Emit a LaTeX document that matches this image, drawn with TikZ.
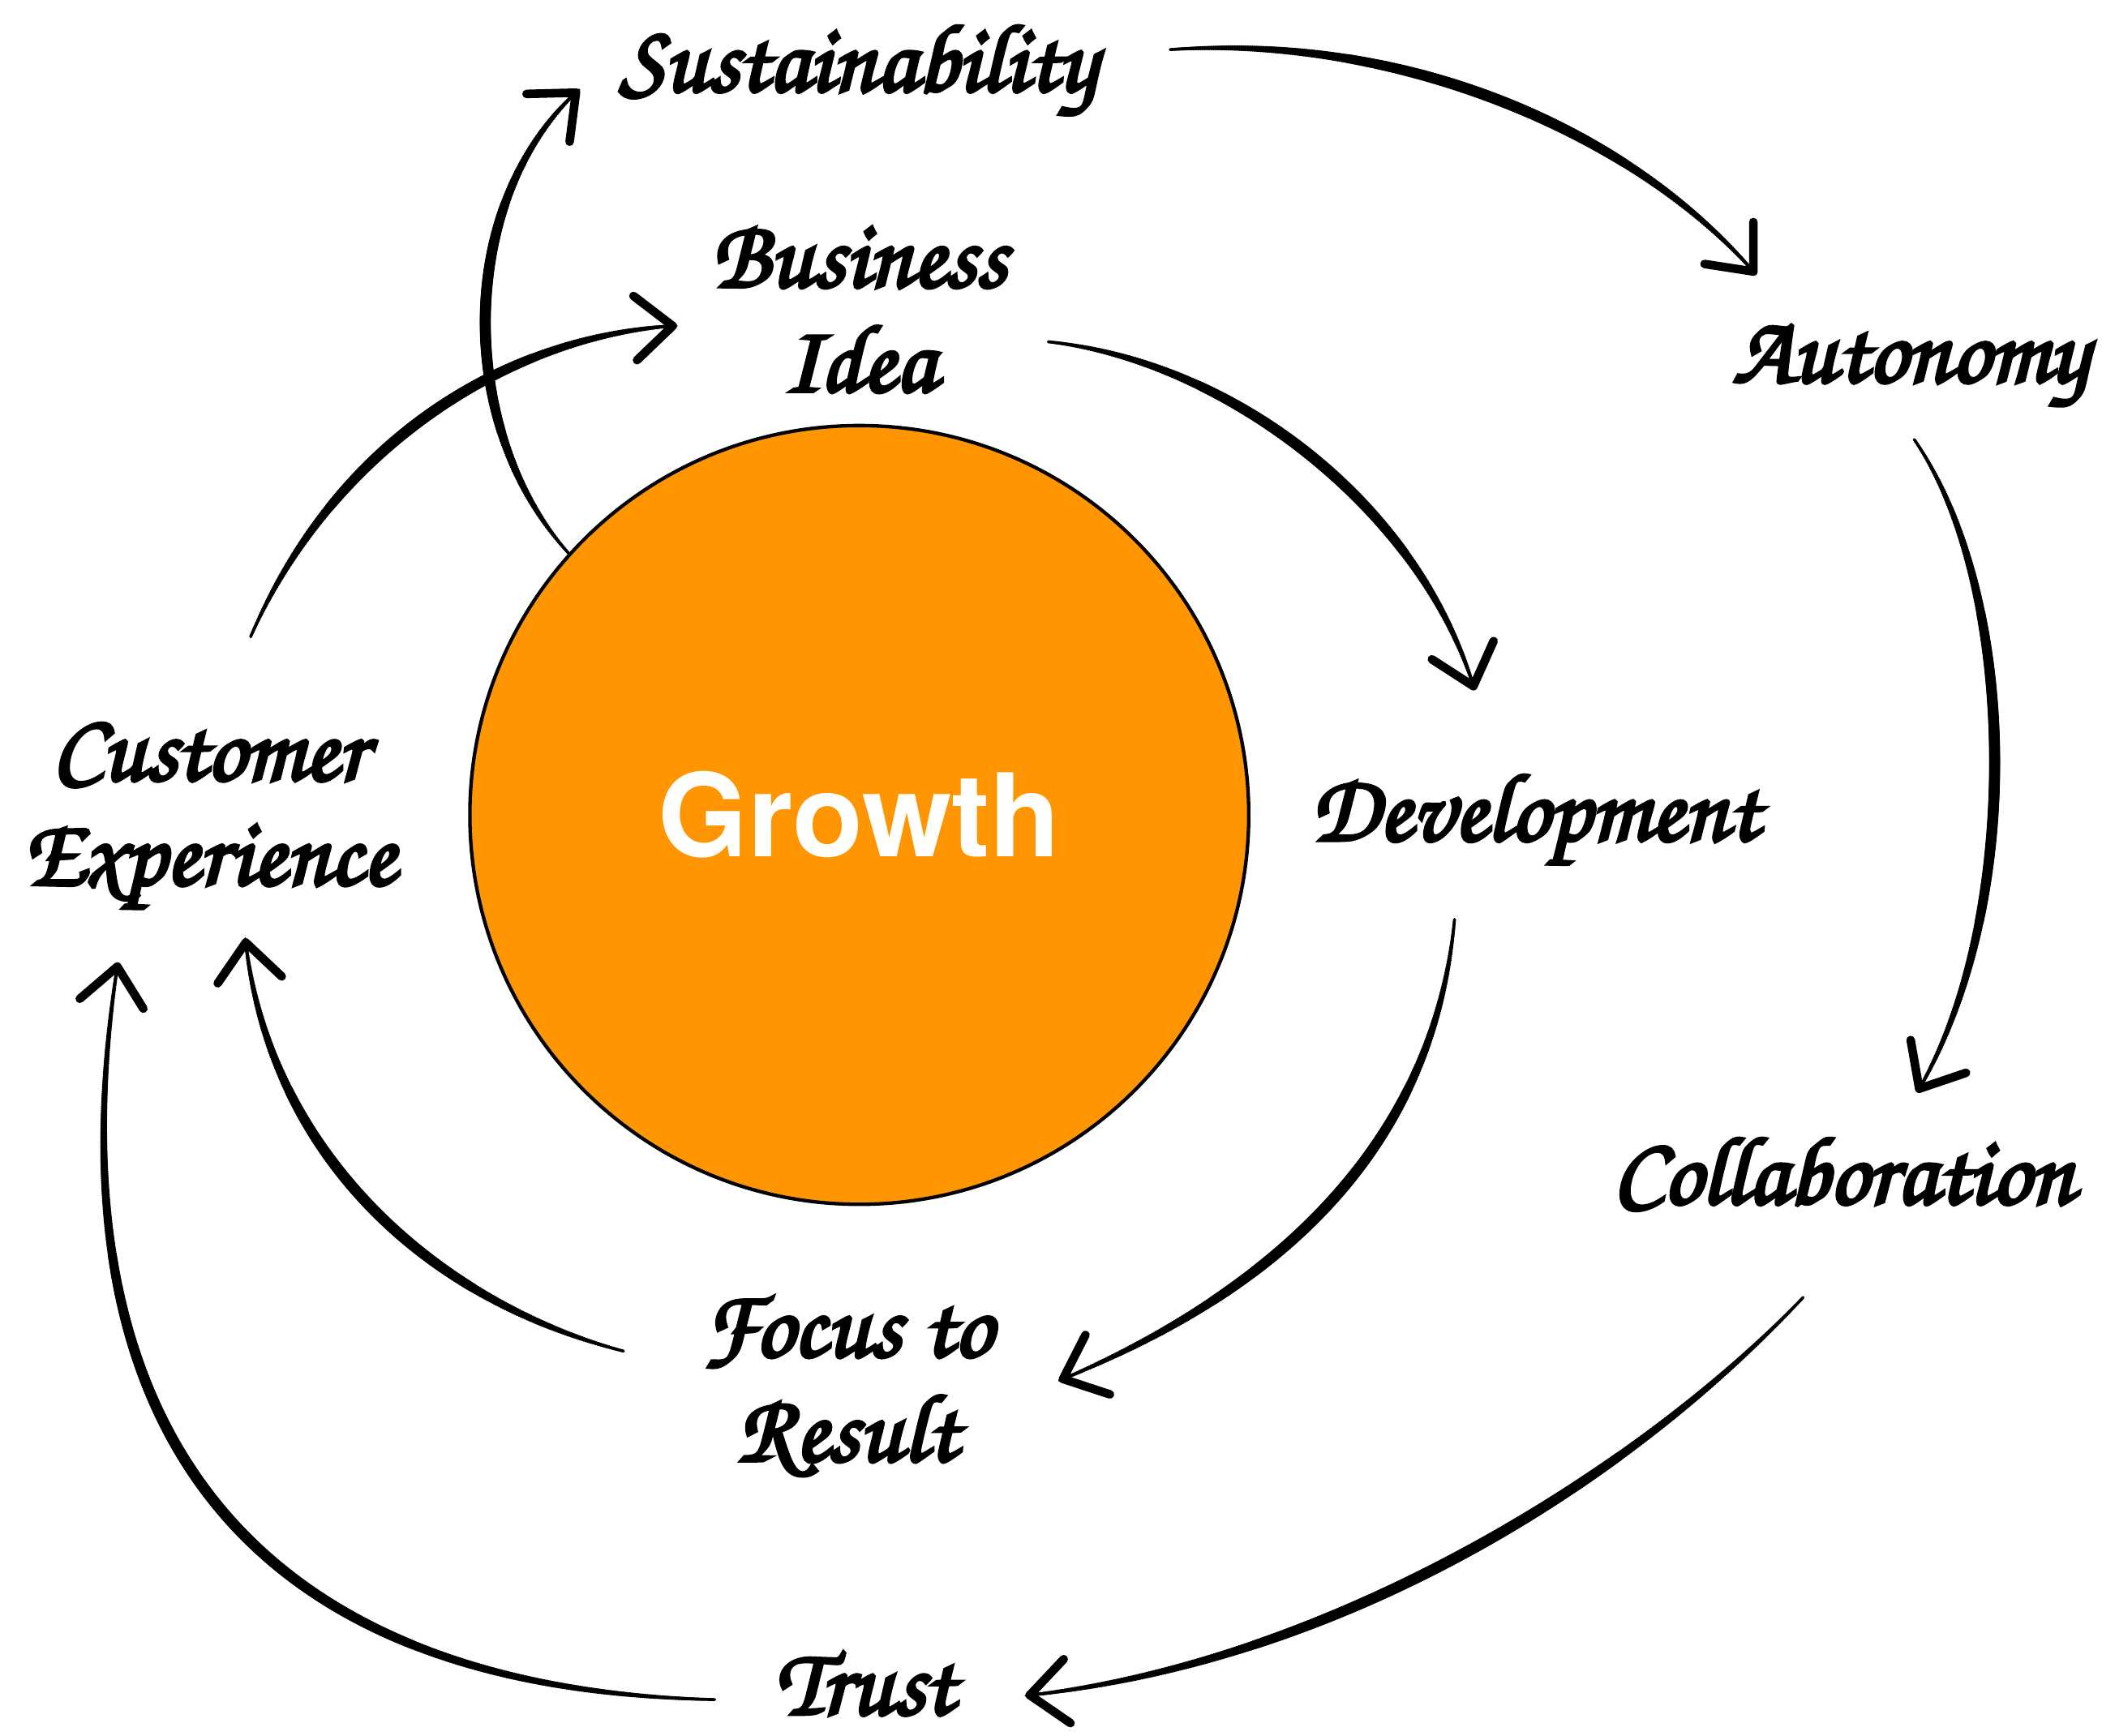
\documentclass[tikz,border=0pt]{standalone}
\usepackage{fontspec}
\setmainfont{TeX Gyre Heros}
\newfontfamily\brush[FakeBold=3.5]{TeX Gyre Chorus}
\usetikzlibrary{arrows.meta,decorations.markings}
\definecolor{growth}{HTML}{FF9500}

\tikzset{
  lbl/.style={font=\brush\fontsize{36}{39}\selectfont, align=center, inner sep=0pt, anchor=base},
  hub/.style={circle, fill=growth, draw=black, line width=1.3pt, minimum size=290.5pt, inner sep=0pt,
    text=white, font=\fontsize{43}{43}\selectfont\bfseries},
  % a stroke that swells in the middle and thins out towards both ends
  flow/.style={line width=1.1pt, line cap=round,
    -{Straight Barb[length=14pt,width=24pt,line width=3.2pt,round]},
    decoration={markings,
      mark=between positions 0 and 1 step 0.8pt with {%
        \pgfmathsetmacro\brushf{\pgfkeysvalueof{/pgf/decoration/mark info/distance from start}/\pgfdecoratedpathlength}%
        \pgfmathsetmacro\brushr{0.55+1.55*sin(180*\brushf)}%
        \fill (0,0) circle[radius=\brushr pt];%
      }},
    postaction={decorate}},
}

\begin{document}
\begin{tikzpicture}[x=0.5pt,y=-0.5pt]
\useasboundingbox (0,0) rectangle (1568,1295);

% central hub
\node[hub] (g) at (641,608) {Growth};

% labels (placed by the baseline of their last line)
\node[lbl] (su) at (640,68)   {Sustainability};
\node[lbl] (bi) at (641,292)  {Business\\Idea};
\node[lbl] (au) at (1425,285) {Autonomy};
\node[lbl] (ce) at (156,660)  {Customer\\Experience};
\node[lbl] (dv) at (1145,627) {Development};
\node[lbl] (co) at (1375,898) {Collaboration};
\node[lbl] (fr) at (632,1090) {Focus to\\Result};
\node[lbl] (tr) at (645,1279) {Trust};

% inner cycle
\draw[flow] ([shift={(31,-185)}]ce.base) .. controls (250,330) and (380,250) .. ([shift={(-136,-49)}]bi.base);
\draw[flow] ([shift={(141,-37)}]bi.base) .. controls (920,270) and (1060,380) .. ([shift={(-45,-112)}]dv.base);
\draw[flow] ([shift={(-60,59)}]dv.base) .. controls (1070,850) and (960,960) .. ([shift={(158,-60)}]fr.base);
\draw[flow] ([shift={(-167,-82)}]fr.base) .. controls (320,970) and (200,860) .. ([shift={(27,40)}]ce.base);

% outer cycle
\draw[flow] (g.138) .. controls (340,320) and (340,150) .. ([shift={(-208,-1)}]su.base);
\draw[flow] ([shift={(233,-31)}]su.base) .. controls (1050,25) and (1220,100) .. ([shift={(-115,-80)}]au.base);
\draw[flow] ([shift={(3,43)}]au.base) .. controls (1505,440) and (1510,680) .. ([shift={(55,-83)}]co.base);
\draw[flow] ([shift={(-30,70)}]co.base) .. controls (1220,1100) and (1000,1240) .. ([shift={(120,-14)}]tr.base);
\draw[flow] ([shift={(-112,-11)}]tr.base) .. controls (180,1260) and (35,1060) .. ([shift={(-68,58)}]ce.base);
\end{tikzpicture}
\end{document}
